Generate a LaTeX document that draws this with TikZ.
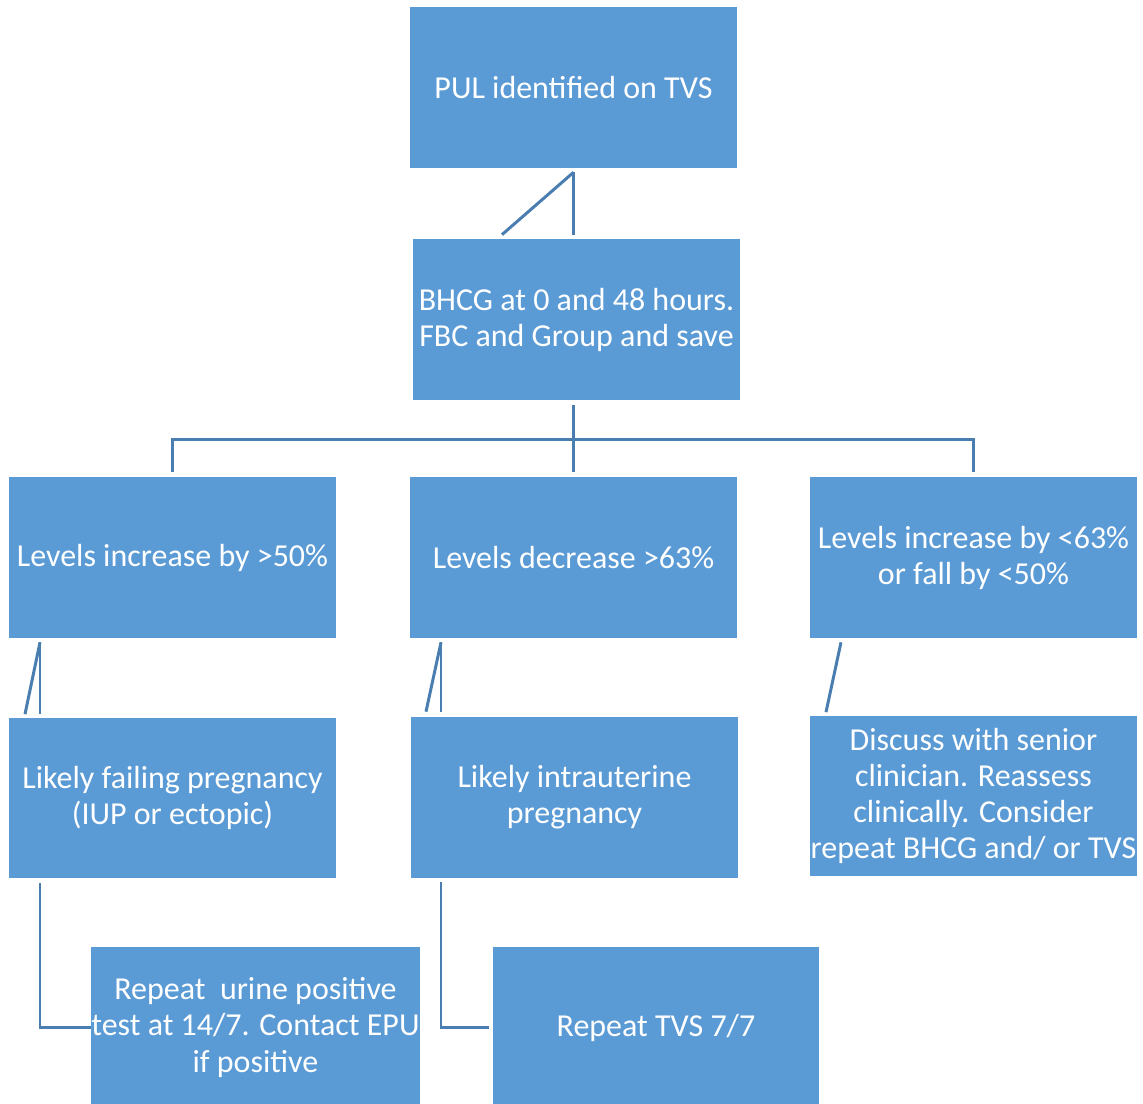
\documentclass[tikz,border=0pt]{standalone}
\usepackage{fontspec}
\setmainfont{Carlito}
\usetikzlibrary{calc}
\definecolor{boxblue}{HTML}{5B9BD5}
\definecolor{linkblue}{HTML}{4A7EB0}
\tikzset{
  box/.style={fill=boxblue, text=white, align=center, inner sep=0pt,
    minimum width=6.54cm, minimum height=3.22cm,
    font=\fontsize{18.2}{20.5}\selectfont},
  link/.style={draw=linkblue, line width=1.7pt}
}
\begin{document}
\begin{tikzpicture}[x=0.02cm, y=-0.02cm]
	\useasboundingbox (0,0) rectangle (1143,1104);
	% boxes
	\node[box] (top) at (573.5,87.5) {PUL identified on TVS};
	\node[box] (bhcg) at (576.5,319.5) {BHCG at 0 and 48 hours.\\FBC and Group and save};
	\node[box] (lup) at (172.5,557.5) {Levels increase by >50\%};
	\node[box] (ldown) at (573.5,557.5) {Levels decrease >63\%};
	\node[box] (lmid) at (973.5,557.5) {Levels increase by <63\%\\or fall by <50\%};
	\node[box] (fail) at (172.5,798) {Likely failing pregnancy\\(IUP or ectopic)};
	\node[box] (iup) at (574.5,797.5) {Likely intrauterine\\pregnancy};
	\node[box] (senior) at (973.5,796) {Discuss with senior\\clinician. Reassess\\clinically. Consider\\repeat BHCG and/ or TVS};
	\node[box] (urine) at (255.5,1027.5) {Repeat\ \ urine positive\\test at 14/7. Contact EPU\\if positive};
	\node[box] (tvs) at (656,1027.5) {Repeat TVS 7/7};
	% connectors
	\draw[link] ($(top.south)+(0,4)$) -- ($(top.south |- bhcg.north)+(0,-4)$);
	\draw[link] ($(top.south)+(0,4)$) -- ($(bhcg.north)+(-74.5,-4)$);
	\draw[link] ($(ldown.north |- bhcg.south)+(0,5)$) -- ($(ldown.north)+(0,-5)$);
	\draw[link] ($(lup.north)+(0,-5)$) |- ($(lmid.north)+(0,-37)$) -- ($(lmid.north)+(0,-5)$);
	\draw[link] ($(lup.south)+(-132.5,4)$) -- ($(fail.north)+(-132.5,-3)$);
	\draw[link] ($(lup.south)+(-132.5,4)$) -- ($(fail.north)+(-147.5,-3)$);
	\draw[link] ($(ldown.south)+(-132.5,4)$) -- ($(iup.north)+(-133.5,-5)$);
	\draw[link] ($(ldown.south)+(-132.5,4)$) -- ($(iup.north)+(-148.5,-5)$);
	\draw[link] ($(lmid.south)+(-132.5,4)$) -- ($(senior.north)+(-147.5,-3)$);
	\draw[link] ($(fail.south)+(-132.5,4)$) |- (urine.west);
	\draw[link] ($(iup.south)+(-133.5,4)$) |- ($(tvs.west)+(-3,0)$);
\end{tikzpicture}
\end{document}
